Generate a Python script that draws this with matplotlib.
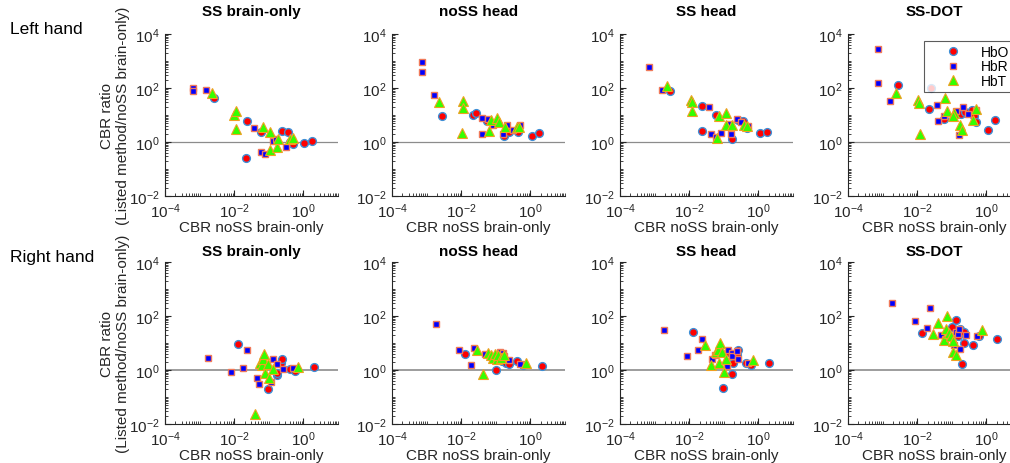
import numpy as np
import matplotlib
matplotlib.use("Agg")
import matplotlib.pyplot as plt
from matplotlib.ticker import FixedLocator, LogFormatterSciNotation, NullFormatter

plt.rcParams['font.family'] = ['Liberation Sans', 'DejaVu Sans']
plt.rcParams['mathtext.fontset'] = 'custom'
plt.rcParams['mathtext.rm'] = 'Liberation Sans'
plt.rcParams['mathtext.it'] = 'Liberation Sans'
plt.rcParams['mathtext.bf'] = 'Liberation Sans:bold'

# ---------------- data (log10 of values) ----------------
panel_titles = ["SS brain-only", "noSS head", "SS head", "SS-DOT"]
row_labels = ["Left hand", "Right hand"]
series_names = ["HbO", "HbR", "HbT"]

# Left hand, SS brain-only
lh1_hbo_x = [-2.58, -1.62, -1.66, -1.235, -0.63, -0.455, -0.39, -0.31, 0.017, 0.26]
lh1_hbo_y = [1.63, 0.79, -0.60, 0.36, 0.42, 0.38, -0.01, -0.07, -0.04, 0.05]
lh1_hbr_x = [-3.18, -3.18, -2.815, -1.43, -1.23, -1.10, -0.87, -0.79, -0.50, -0.34]
lh1_hbr_y = [1.99, 1.89, 1.93, 0.52, -0.36, -0.44, 0.05, 0.11, -0.20, 0.07]
lh1_hbt_x = [-2.65, -2.006, -1.95, -1.95, -1.16, -0.97, -0.97, -0.77, -0.72, -0.39, -0.29]
lh1_hbt_y = [1.80, 1.0, 1.14, 0.48, 0.54, 0.38, -0.30, -0.20, 0.11, 0.11, 0.14]

# Left hand, noSS head
lh2_hbo_x = [-2.56, -1.65, -1.58, -1.24, -0.75, -0.61, -0.35, 0.05, 0.25]
lh2_hbo_y = [0.96, 1.01, 1.06, 0.77, 0.23, 0.36, 0.36, 0.22, 0.33]
lh2_hbr_x = [-3.14, -3.13, -2.79, -1.41, -1.40, -1.22, -1.09, -0.78, -0.67, -0.49, -0.30]
lh2_hbr_y = [2.95, 2.60, 1.75, 0.89, 0.30, 0.85, 0.63, 0.30, 0.63, 0.46, 0.63]
lh2_hbt_x = [-2.63, -1.94, -1.94, -1.97, -1.19, -1.14, -0.96, -0.90, -0.72, -0.40, -0.32]
lh2_hbt_y = [1.47, 1.51, 1.25, 0.32, 0.40, 0.81, 0.88, 0.75, 0.54, 0.54, 0.57]

# Left hand, SS head
lh3_hbo_x = [-2.555, -1.62, -1.64, -1.23, -0.75, -0.58, -0.44, -0.34, 0.05, 0.25]
lh3_hbo_y = [1.90, 1.35, 0.42, 1.01, 0.11, 0.83, 0.79, 0.52, 0.33, 0.37]
lh3_hbr_x = [-3.15, -2.80, -1.43, -1.38, -1.23, -1.09, -0.85, -0.80, -0.63, -0.50, -0.29]
lh3_hbr_y = [2.79, 1.94, 1.28, 0.31, 0.20, 0.33, 0.68, 0.30, 0.85, 0.75, 0.60]
lh3_hbt_x = [-2.65, -1.96, -1.91, -1.93, -1.14, -1.21, -0.95, -0.94, -0.75, -0.41, -0.32]
lh3_hbt_y = [2.09, 1.56, 1.47, 1.14, 0.98, 0.16, 1.06, 0.64, 0.64, 0.63, 0.60]

# Left hand, SS-DOT
lh4_hbo_x = [-2.55, -1.65, -1.60, -1.23, -0.74, -0.62, -0.43, -0.36, -0.30, 0.056, 0.25]
lh4_hbo_y = [2.10, 1.21, 2.0, 0.84, 1.05, 1.11, 1.20, 0.96, 0.74, 0.46, 0.80]
lh4_hbr_x = [-3.14, -3.14, -2.79, -1.42, -1.39, -1.22, -0.88, -0.79, -0.67, -0.52, -0.30]
lh4_hbr_y = [3.46, 2.19, 1.51, 1.38, 0.77, 0.96, 1.15, 0.25, 1.30, 1.05, 1.17]
lh4_hbt_x = [-2.62, -1.99, -1.94, -1.92, -1.20, -1.15, -0.94, -0.96, -0.76, -0.71, -0.40, -0.30]
lh4_hbt_y = [1.83, 1.54, 1.46, 0.31, 1.64, 1.14, 1.09, 0.95, 0.64, 0.46, 0.80, 1.21]

# Right hand, SS brain-only
rh1_hbo_x = [-1.89, -1.01, -0.77, -0.75, -0.65, -0.61, -0.39, -0.24, 0.31]
rh1_hbo_y = [0.98, -0.69, -0.20, -0.12, 0.27, 0.40, 0.02, -0.04, 0.12]
rh1_hbr_x = [-2.75, -2.09, -1.76, -1.64, -1.35, -1.28, -0.95, -0.89, -0.77, -0.60, -0.29]
rh1_hbr_y = [0.46, -0.07, 0.07, 0.75, -0.31, -0.51, -0.43, 0.42, 0.21, 0.02, 0.06]
rh1_hbt_x = [-1.40, -1.25, -1.21, -1.18, -1.14, -1.11, -1.03, -0.98, -0.87, -0.17]
rh1_hbt_y = [-1.64, 0.27, 0.17, 0.40, 0.60, -0.12, 0.21, -0.28, 0.05, 0.11]

# Right hand, noSS head
rh2_hbo_x = [-1.88, -0.99, -0.83, -0.71, -0.61, -0.38, -0.22, 0.34]
rh2_hbo_y = [0.58, -0.01, 0.33, 0.27, 0.21, 0.33, 0.19, 0.15]
rh2_hbr_x = [-2.74, -2.07, -1.73, -1.62, -1.31, -0.88, -0.78, -0.76, -0.61, -0.30]
rh2_hbr_y = [1.72, 0.73, 0.17, 0.80, 0.58, 0.68, 0.62, 0.52, 0.36, 0.21]
rh2_hbt_x = [-1.55, -1.38, -1.22, -1.15, -1.09, -1.02, -0.96, -0.93, -0.86, -0.76, -0.14]
rh2_hbt_y = [0.73, -0.16, 0.64, 0.54, 0.46, 0.58, 0.40, 0.54, 0.46, 0.54, 0.27]

# Right hand, SS head
rh3_hbo_x = [-1.88, -1.01, -0.87, -0.77, -0.72, -0.60, -0.63, -0.36, -0.22, 0.31]
rh3_hbo_y = [1.42, -0.68, 0.68, -0.14, 0.27, 0.73, 0.54, 0.25, 0.19, 0.26]
rh3_hbr_x = [-2.72, -2.07, -1.74, -1.62, -1.33, -1.25, -0.92, -0.89, -0.77, -0.75, -0.63, -0.60, -0.29]
rh3_hbr_y = [1.48, 0.52, 0.73, 1.16, 0.40, 0.54, 0.15, 0.73, 0.64, 0.52, 0.70, 0.42, 0.27]
rh3_hbt_x = [-1.55, -1.38, -1.23, -1.18, -1.11, -1.06, -1.13, -0.99, -0.94, -0.17]
rh3_hbt_y = [0.91, 0.19, 0.68, 0.73, 1.01, 0.67, 0.27, -0.07, 0.42, 0.37]

# Right hand, SS-DOT
rh4_hbo_x = [-1.87, -1.00, -0.88, -0.83, -0.76, -0.71, -0.64, -0.64, -0.38, -0.21, 0.32]
rh4_hbo_y = [1.38, 1.60, 1.85, 1.26, 1.53, 0.21, 1.41, 1.01, 0.91, 1.26, 1.14]
rh4_hbr_x = [-2.74, -2.06, -1.73, -1.63, -1.31, -1.20, -0.94, -0.88, -0.81, -0.78, -0.76, -0.59, -0.28]
rh4_hbr_y = [2.47, 1.81, 1.57, 2.28, 1.28, 1.16, 0.91, 1.41, 1.32, 1.53, 0.77, 1.28, 1.26]
rh4_hbt_x = [-1.55, -1.39, -1.23, -1.17, -1.13, -1.07, -1.03, -0.97, -0.96, -0.88, -0.14]
rh4_hbt_y = [1.32, 1.75, 1.11, 1.53, 2.0, 1.38, 1.26, 1.07, 0.67, 0.57, 1.48]

panels = [
    [(lh1_hbo_x, lh1_hbo_y), (lh1_hbr_x, lh1_hbr_y), (lh1_hbt_x, lh1_hbt_y)],
    [(lh2_hbo_x, lh2_hbo_y), (lh2_hbr_x, lh2_hbr_y), (lh2_hbt_x, lh2_hbt_y)],
    [(lh3_hbo_x, lh3_hbo_y), (lh3_hbr_x, lh3_hbr_y), (lh3_hbt_x, lh3_hbt_y)],
    [(lh4_hbo_x, lh4_hbo_y), (lh4_hbr_x, lh4_hbr_y), (lh4_hbt_x, lh4_hbt_y)],
    [(rh1_hbo_x, rh1_hbo_y), (rh1_hbr_x, rh1_hbr_y), (rh1_hbt_x, rh1_hbt_y)],
    [(rh2_hbo_x, rh2_hbo_y), (rh2_hbr_x, rh2_hbr_y), (rh2_hbt_x, rh2_hbt_y)],
    [(rh3_hbo_x, rh3_hbo_y), (rh3_hbr_x, rh3_hbr_y), (rh3_hbt_x, rh3_hbt_y)],
    [(rh4_hbo_x, rh4_hbo_y), (rh4_hbr_x, rh4_hbr_y), (rh4_hbt_x, rh4_hbt_y)],
]

# ---------------- styling ----------------
styles = [
    dict(marker='o', ms=5.6, mfc='#ff0000', mec='#3d8fd6', mew=1.0),
    dict(marker='s', ms=4.6, mfc='#0000ff', mec='#f07a5a', mew=1.0),
    dict(marker='^', ms=6.6, mfc='#33ff00', mec='#f0a020', mew=0.8),
]
axcol = '#262626'

W, H = 1010, 464
fig = plt.figure(figsize=(W / 100, H / 100), dpi=100)

lefts_px = [165, 392, 620, 848]
ax_w_px, ax_h_px = 173, 162
bottoms_px = [197, 425]
title_y_px = [12, 252]
row_label_y_px = [30, 258]

x_major = [1e-4, 1e-2, 1e0]
y_major = [1e-2, 1e0, 1e2, 1e4]
x_minor = [m * 10.0 ** e for e in range(-4, 1) for m in range(1, 10)
           if not (m == 1 and e in (-4, -2, 0))] + [10.0]
y_minor = [m * 10.0 ** e for e in range(-2, 4) for m in range(1, 10)
           if not (m == 1 and e in (-2, 0, 2))]

for r in range(2):
    fig.text(10 / W, 1 - row_label_y_px[r] / H, row_labels[r], ha='left', va='center',
             fontsize=12.5, color='black')
    for c in range(4):
        idx = r * 4 + c
        ax = fig.add_axes([lefts_px[c] / W, (H - bottoms_px[r]) / H, ax_w_px / W, ax_h_px / H])
        ax.set_xscale('log')
        ax.set_yscale('log')
        ax.set_xlim(1e-4, 1e1)
        ax.set_ylim(1e-2, 1e4)
        ax.axhline(1.0, color='#8c8c8c', lw=1.2 if r == 1 else 0.9, zorder=1)
        for s, (lx, ly) in enumerate(panels[idx]):
            ax.plot(np.power(10.0, lx), np.power(10.0, ly), linestyle='none',
                    label=series_names[s], zorder=3 + s, **styles[s])
        for sp in ['top', 'right']:
            ax.spines[sp].set_visible(False)
        for sp in ['left', 'bottom']:
            ax.spines[sp].set_color(axcol)
            ax.spines[sp].set_linewidth(0.8)
        ax.xaxis.set_major_locator(FixedLocator(x_major))
        ax.yaxis.set_major_locator(FixedLocator(y_major))
        ax.xaxis.set_minor_locator(FixedLocator(x_minor))
        ax.yaxis.set_minor_locator(FixedLocator(y_minor))
        ax.xaxis.set_major_formatter(LogFormatterSciNotation())
        ax.yaxis.set_major_formatter(LogFormatterSciNotation())
        ax.xaxis.set_minor_formatter(NullFormatter())
        ax.yaxis.set_minor_formatter(NullFormatter())
        ax.tick_params(which='major', direction='in', length=4, width=0.8, colors=axcol,
                       labelsize=11, pad=4)
        ax.tick_params(which='minor', direction='in', length=2, width=0.6, colors=axcol)
        ax.text(0.5, -0.19, "CBR noSS brain-only", transform=ax.transAxes,
                ha='center', va='center', fontsize=11, color=axcol)
        fig.text((lefts_px[c] + ax_w_px / 2) / W, 1 - title_y_px[r] / H, panel_titles[c],
                 ha='center', va='center', fontsize=11, fontweight='bold')
        if c == 0:
            fig.text(115 / W, (H - bottoms_px[r] + ax_h_px / 2) / H,
                     "CBR ratio\n(Listed method/noSS brain-only)", rotation=90,
                     ha='center', va='center', multialignment='center',
                     fontsize=11, color=axcol, linespacing=1.1)
        if idx == 3:
            leg = ax.legend(loc='upper left', bbox_to_anchor=(0.44, 0.655, 0.62, 0.3),
                            mode='expand', frameon=True,
                            fancybox=False, edgecolor='#333333', fontsize=10,
                            handlelength=3.6, handletextpad=0.2, borderpad=0.28,
                            labelspacing=0.02, borderaxespad=0)
            leg.get_frame().set_linewidth(0.8)

fig.savefig("out.png", dpi=100)
